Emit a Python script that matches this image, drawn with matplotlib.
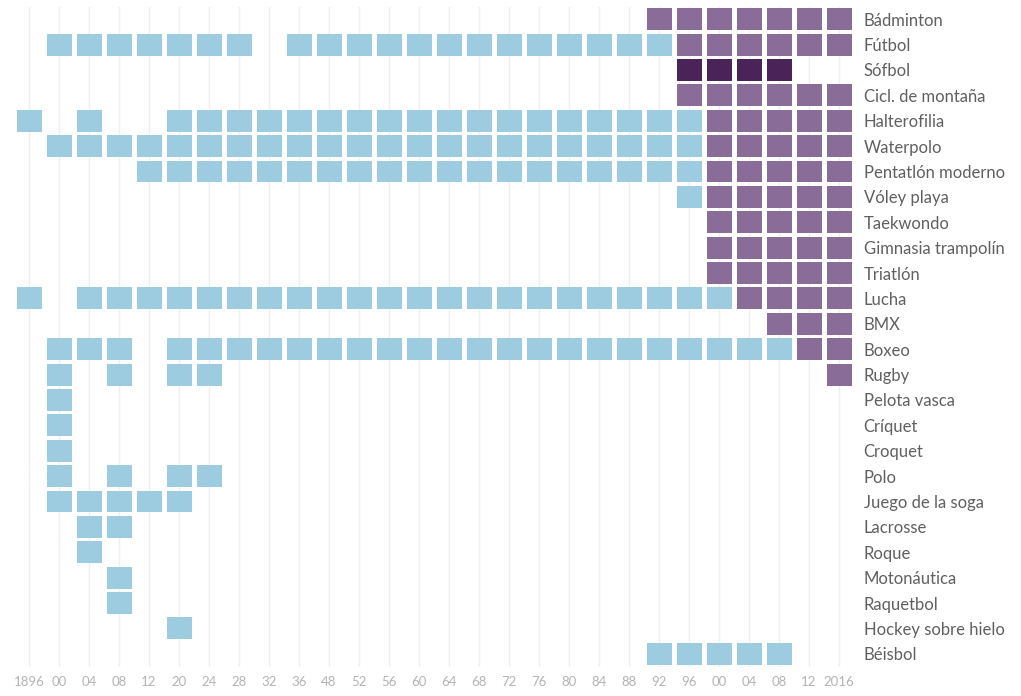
import matplotlib.pyplot as plt
import numpy as np

# columnas: juegos olímpicos de verano
years = ['1896', '00', '04', '08', '12', '20', '24', '28', '32', '36', '48', '52', '56', '60',
         '64', '68', '72', '76', '80', '84', '88', '92', '96', '00', '04', '08', '12', '2016']

sports = ['Bádminton', 'Fútbol', 'Sófbol', 'Cicl. de montaña', 'Halterofilia', 'Waterpolo',
          'Pentatlón moderno', 'Vóley playa', 'Taekwondo', 'Gimnasia trampolín', 'Triatlón',
          'Lucha', 'BMX', 'Boxeo', 'Rugby', 'Pelota vasca', 'Críquet', 'Croquet', 'Polo',
          'Juego de la soga', 'Lacrosse', 'Roque', 'Motonáutica', 'Raquetbol',
          'Hockey sobre hielo', 'Béisbol']

# índices de columna (años) en que se disputó cada deporte, por categoría de color
blue = {
    'Fútbol': [1, 2, 3, 4, 5, 6, 7] + list(range(9, 22)),
    'Halterofilia': [0, 2] + list(range(5, 23)),
    'Waterpolo': list(range(1, 23)),
    'Pentatlón moderno': list(range(4, 23)),
    'Vóley playa': [22],
    'Lucha': [0] + list(range(2, 24)),
    'Boxeo': [1, 2, 3] + list(range(5, 26)),
    'Rugby': [1, 3, 5, 6],
    'Pelota vasca': [1],
    'Críquet': [1],
    'Croquet': [1],
    'Polo': [1, 3, 5, 6],
    'Juego de la soga': [1, 2, 3, 4, 5],
    'Lacrosse': [2, 3],
    'Roque': [2],
    'Motonáutica': [3],
    'Raquetbol': [3],
    'Hockey sobre hielo': [5],
    'Béisbol': [21, 22, 23, 24, 25],
}
purple = {
    'Bádminton': [21, 22, 23, 24, 25, 26, 27],
    'Fútbol': [22, 23, 24, 25, 26, 27],
    'Cicl. de montaña': [22, 23, 24, 25, 26, 27],
    'Halterofilia': [23, 24, 25, 26, 27],
    'Waterpolo': [23, 24, 25, 26, 27],
    'Pentatlón moderno': [23, 24, 25, 26, 27],
    'Vóley playa': [23, 24, 25, 26, 27],
    'Taekwondo': [23, 24, 25, 26, 27],
    'Gimnasia trampolín': [23, 24, 25, 26, 27],
    'Triatlón': [23, 24, 25, 26, 27],
    'Lucha': [24, 25, 26, 27],
    'BMX': [25, 26, 27],
    'Boxeo': [26, 27],
    'Rugby': [27],
}
dark = {
    'Sófbol': [22, 23, 24, 25],
}

colors = [(blue, '#9dcce0'), (purple, '#8a6c98'), (dark, '#4a2358')]

fig = plt.figure(figsize=(10.21, 6.96), dpi=100)
W, H = 1021, 696
# columnas a 30 px, filas a ~25.4 px
left, right = 14, 854
top, bottom = 6.5, 666.5
ax = fig.add_axes([left / W, (H - bottom) / H, (right - left) / W, (bottom - top) / H])

n_cols = len(years)
n_rows = len(sports)
ax.set_xlim(-0.5, n_cols - 0.5)
ax.set_ylim(n_rows - 0.5, -0.5)

for i in range(n_cols):
    ax.axvline(i, color='#efefef', lw=1, zorder=0)

w = 25 / 30
h = 22 / 25.4
for d, c in colors:
    for s, cols in d.items():
        r = sports.index(s)
        for ci in cols:
            ax.add_patch(plt.Rectangle((ci - w / 2, r - h / 2), w, h, color=c, lw=0, zorder=2))

ax.set_xticks(range(n_cols))
ax.set_xticklabels(years, fontsize=9.5, color='#b4b4b4', family='Lato')
ax.set_yticks(range(n_rows))
ax.set_yticklabels(sports, fontsize=12, color='#606060', family='Lato')
ax.yaxis.tick_right()
ax.tick_params(axis='y', length=0, pad=7)
ax.tick_params(axis='x', length=0, pad=7)
for sp in ax.spines.values():
    sp.set_visible(False)

fig.savefig('out.png', dpi=100)
